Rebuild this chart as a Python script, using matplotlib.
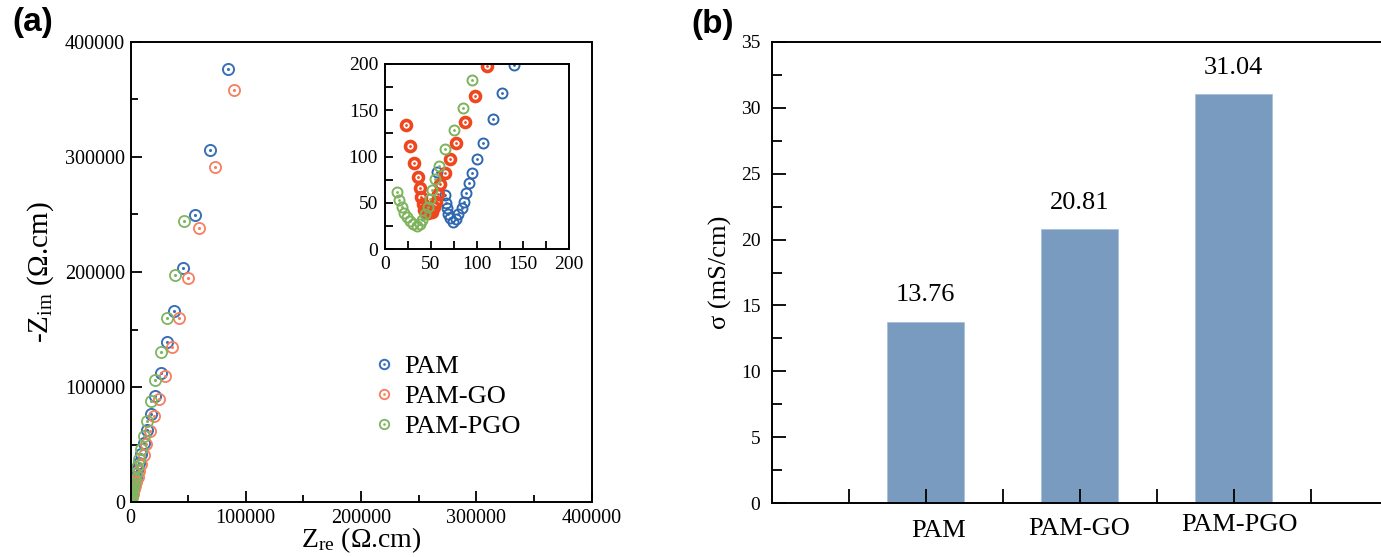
import numpy as np
import matplotlib
matplotlib.use('Agg')
import matplotlib.pyplot as plt
import matplotlib.transforms as mtransforms
from matplotlib import rcParams
from matplotlib.ticker import MultipleLocator

rcParams['font.family'] = 'serif'
rcParams['font.serif'] = ['Liberation Serif', 'DejaVu Serif']
rcParams['mathtext.fontset'] = 'custom'
rcParams['mathtext.rm'] = 'Liberation Serif'
rcParams['mathtext.it'] = 'Liberation Serif:italic'

# ---- Nyquist data, main panel (ohm.cm) ----
pam_zre = [84400, 68700, 55700, 45200, 37400, 31300, 26100, 20900, 17400, 13900, 11300, 9100,
           7300, 5800, 4600, 3600, 2800, 2100, 1600, 1200, 900, 650, 450, 300, 200]
pam_zim = [376500, 305900, 249300, 203900, 166500, 139400, 112400, 92400, 76700, 62700, 51500, 42000,
           34000, 27500, 22000, 17500, 13800, 10800, 8400, 6500, 5000, 3800, 2800, 2000, 1400]
go_zre = [89500, 73000, 59100, 49600, 41700, 35700, 29600, 24300, 20000, 16500, 13700, 11300,
          9300, 7600, 6200, 5000, 4000, 3200, 2500, 1900, 1450, 1100, 800, 550, 380]
go_zim = [358200, 291000, 237900, 195200, 160400, 135000, 109800, 89800, 75000, 61900, 50500, 41000,
          33200, 26800, 21600, 17300, 13800, 11000, 8700, 6800, 5300, 4100, 3100, 2300, 1700]
pgo_zre = [46100, 38300, 31300, 26100, 20900, 17400, 13900, 11300, 8700, 7000, 5600, 4500,
           3600, 2800, 2200, 1700, 1300, 1000, 750, 550, 400, 280, 190]
pgo_zim = [244000, 197000, 160400, 130700, 106300, 88000, 70600, 57500, 46200, 37500, 30400, 24600,
           19800, 15900, 12700, 10100, 8000, 6300, 4900, 3800, 2900, 2200, 1600]

# ---- inset (high frequency region) ----
pam_in_x = [56.2, 65.2, 66.0, 67.0, 68.8, 70.7, 73.6, 76.8, 79.7, 83.3, 85.5, 87.7, 91.3, 94.9,
            99.6, 107.0, 117.2, 127.7, 140.3]
pam_in_y = [83.0, 58.4, 50.1, 44.0, 37.9, 33.2, 29.7, 32.2, 37.9, 44.0, 51.3, 60.3, 71.1, 82.6,
            97.4, 115.0, 140.5, 168.6, 199.0]
go_in_x = [22.8, 27.2, 31.9, 35.5, 37.7, 39.1, 41.0, 42.8, 45.0, 47.0, 50.7, 53.6, 55.0, 57.2,
           59.8, 65.2, 70.7, 77.2, 86.8, 98.0, 111.4]
go_in_y = [134.4, 111.5, 92.7, 77.5, 65.7, 56.6, 48.5, 42.2, 40.0, 39.2, 40.3, 45.9, 51.3, 59.4,
           70.0, 81.9, 97.4, 115.0, 137.0, 165.8, 197.5]
pgo_in_x = [12.7, 15.2, 18.1, 21.0, 23.6, 27.2, 30.8, 34.4, 38.0, 40.6, 43.5, 46.4, 48.9, 50.7,
            54.3, 58.7, 65.2, 75.2, 84.3, 95.1]
pgo_in_y = [62.0, 53.0, 45.9, 39.4, 34.4, 30.4, 27.3, 25.1, 27.3, 31.7, 37.9, 45.9, 53.9, 64.0,
            75.5, 90.0, 108.0, 129.0, 152.4, 183.0]

# ---- conductivity ----
samples = ['PAM', 'PAM-GO', 'PAM-PGO']
sigma = [13.76, 20.81, 31.04]

colors = ['#3a70b6', '#f57f5f', '#7db562']
colors_in = ['#2f68b0', '#f0461e', '#7db35c']

W, H = 1381, 557
fig = plt.figure(figsize=(W / 100, H / 100), dpi=100)


def px(l, t, r, b):
    return [l / W, 1 - b / H, (r - l) / W, (b - t) / H]


def ring_dot(ax, x, y, c, ms, mew):
    ring, = ax.plot(x, y, 'o', ms=ms, mfc='none', mec=c, mew=mew, ls='none')
    dot, = ax.plot(x, y, 'o', ms=ms * 0.28, color=c, mew=0, ls='none')
    return ring, dot


def style_ticks(ax, size, pad):
    ax.tick_params(which='both', direction='in', top=False, right=False, labelsize=size, pad=pad, width=1.3)
    ax.tick_params(which='major', length=8)
    ax.tick_params(which='minor', length=5)
    for s in ax.spines.values():
        s.set_linewidth(1.4)


# ---- panel (a) ----
ax = fig.add_axes(px(130.5, 42, 591.5, 502))
h1 = ring_dot(ax, pam_zre, pam_zim, colors[0], 8, 1.4)
h2 = ring_dot(ax, go_zre, go_zim, colors[1], 8, 1.3)
h3 = ring_dot(ax, pgo_zre, pgo_zim, colors[2], 8, 1.3)
ax.set_xlim(0, 400000)
ax.set_ylim(0, 400000)
ax.xaxis.set_major_locator(MultipleLocator(100000))
ax.xaxis.set_minor_locator(MultipleLocator(50000))
ax.yaxis.set_major_locator(MultipleLocator(100000))
ax.yaxis.set_minor_locator(MultipleLocator(50000))
style_ticks(ax, 14.5, 4)
ax.tick_params(axis='x', pad=5)
ax.set_xlabel(r'Z$_{\mathrm{re}}$ (Ω.cm)', fontsize=20, labelpad=-2)
ax.set_ylabel(r'-Z$_{\mathrm{im}}$ (Ω.cm)', fontsize=21, labelpad=6)
ax.legend([h1, h2, h3], samples, loc='center left', bbox_to_anchor=(0.53, 0.23),
          frameon=False, fontsize=19, handlelength=0.7, handletextpad=0.4, markerscale=0.85,
          labelspacing=0.25, borderpad=0, borderaxespad=0)

ins = fig.add_axes(px(385, 64, 569, 249))
ring_dot(ins, pam_in_x, pam_in_y, colors_in[0], 7.2, 1.4)
ring_dot(ins, go_in_x, go_in_y, colors_in[1], 7.2, 2.6)
ring_dot(ins, pgo_in_x, pgo_in_y, colors_in[2], 7.2, 1.4)
ins.set_xlim(0, 200)
ins.set_ylim(0, 200)
ins.xaxis.set_major_locator(MultipleLocator(50))
ins.xaxis.set_minor_locator(MultipleLocator(25))
ins.yaxis.set_major_locator(MultipleLocator(50))
ins.yaxis.set_minor_locator(MultipleLocator(25))
style_ticks(ins, 14, 5)
ins.tick_params(which='both', length=6)

# ---- panel (b) ----
bx = fig.add_axes(px(771.5, 42, 1387.5, 503))
pos = np.arange(1, len(samples) + 1)
bars = bx.bar(pos, sigma, width=0.5, color='#7a9bc0', edgecolor='#a9c0da', linewidth=0.6)
for p, v in zip(pos, sigma):
    bx.annotate(f'{v:.2f}', (p, v), xytext=(0, 11), textcoords='offset points',
                ha='center', va='bottom', fontsize=19)
bx.set_xlim(0, 4)
bx.set_ylim(0, 35)
bx.set_xticks(np.arange(0.5, 4.0, 0.5))
bx.set_xticklabels(['', 'PAM', '', 'PAM-GO', '', 'PAM-PGO', ''])
bx.yaxis.set_major_locator(MultipleLocator(5))
bx.yaxis.set_minor_locator(MultipleLocator(2.5))
style_ticks(bx, 14, 8)
bx.tick_params(axis='x', labelsize=19, pad=11, length=10)
bx.tick_params(axis='y', which='major', length=10)
bx.tick_params(axis='y', which='minor', length=7)
bx.set_ylabel('σ (mS/cm)', fontsize=19, labelpad=6)

# small hand-placement shifts of the category labels, as in the original
shifts = [(13, -2), (0, 0), (6, 4)]
labs = [t for t in bx.get_xticklabels() if t.get_text()]
for t, (dx, dy) in zip(labs, shifts):
    t.set_transform(t.get_transform() + mtransforms.ScaledTranslation(dx / 100, dy / 100, fig.dpi_scale_trans))

fig.text(33 / W, 1 - 22 / H, '(a)', fontsize=24, fontweight='bold', family='Liberation Sans',
         ha='center', va='center')
fig.text(713 / W, 1 - 24 / H, '(b)', fontsize=24, fontweight='bold', family='Liberation Sans',
         ha='center', va='center')

fig.savefig('out.png', dpi=100)
